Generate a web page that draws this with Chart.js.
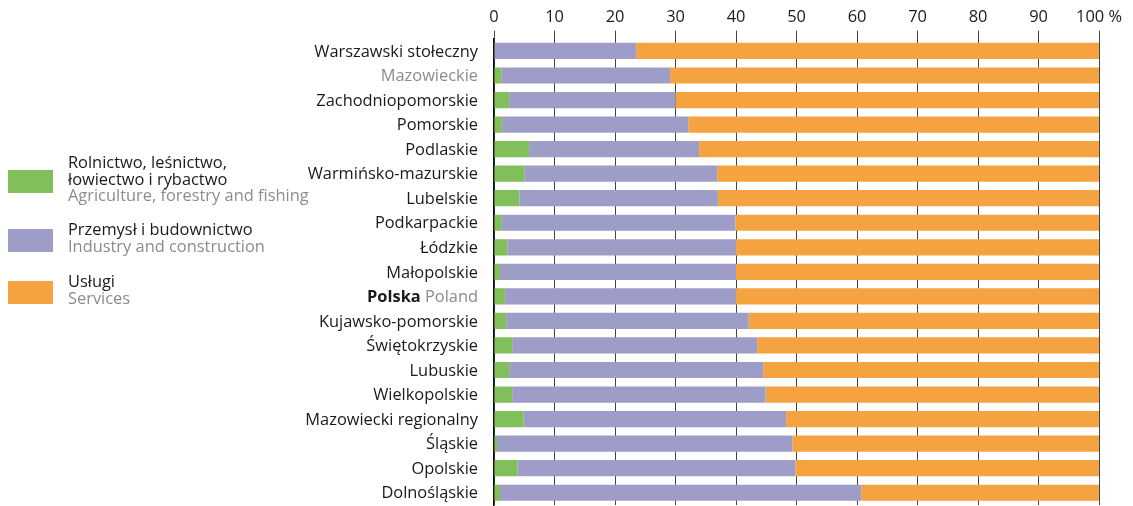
<!DOCTYPE html>
<html>
<head>
<meta charset="utf-8">
<script src="https://cdn.jsdelivr.net/npm/chart.js@4"></script>
<style>
  body { margin: 0; background: #fff; font-family: "Open Sans", sans-serif; }
  #wrap { position: relative; width: 1133px; height: 506px; }
  #legend { position: absolute; left: 8px; top: 0; }
  .item { position: absolute; left: 0; width: 330px; }
  .sw { position: absolute; left: 0; width: 45px; height: 23px; }
  .txt { position: absolute; left: 60px; font-size: 16.4px; line-height: 16.5px; color: #1a1a1a; white-space: nowrap; }
  .en { color: #8c8c8c; }
</style>
</head>
<body>
<div id="wrap">
  <canvas id="myChart" width="1133" height="506"></canvas>
  <div id="legend"></div>
</div>
<script>
// regions, sorted by share of agriculture + industry
const regions = [
  "Warszawski stołeczny", "Mazowieckie", "Zachodniopomorskie", "Pomorskie", "Podlaskie",
  "Warmińsko-mazurskie", "Lubelskie", "Podkarpackie", "Łódzkie", "Małopolskie",
  "Polska", "Kujawsko-pomorskie", "Świętokrzyskie", "Lubuskie", "Wielkopolskie",
  "Mazowiecki regionalny", "Śląskie", "Opolskie", "Dolnośląskie"
];
const agriculture = [0.1, 1.2, 2.5, 1.3, 5.8, 5.0, 4.2, 1.3, 2.2, 1.0, 1.8, 2.0, 3.0, 2.5, 3.0, 4.9, 0.5, 3.9, 1.0];
const industry = [23.4, 27.9, 27.5, 30.8, 28.1, 31.9, 32.8, 38.6, 37.8, 39.0, 38.2, 40.1, 40.5, 42.0, 41.9, 43.4, 48.8, 45.9, 59.7];
const services = [76.5, 70.9, 70.0, 67.9, 66.1, 63.1, 63.0, 60.1, 60.0, 60.0, 60.0, 57.9, 56.5, 55.5, 55.1, 51.7, 50.7, 50.2, 39.3];
const xTicks = [0, 10, 20, 30, 40, 50, 60, 70, 80, 90, 100];

const seriesNames = [
  { pl: ["Rolnictwo, leśnictwo,", "łowiectwo i rybactwo"], en: "Agriculture, forestry and fishing", color: '#80bf5a' },
  { pl: ["Przemysł i budownictwo"], en: "Industry and construction", color: '#9e9dc8' },
  { pl: ["Usługi"], en: "Services", color: '#f5a240' }
];

const FONT = '16.4px "Open Sans"';

// legend on the left
const legendTops = [154, 221, 273];
const swatchOffsets = [16, 8, 8];
const legend = document.getElementById('legend');
seriesNames.forEach((s, i) => {
    const item = document.createElement('div');
    item.className = 'item';
    item.style.top = legendTops[i] + 'px';
    const sw = document.createElement('div');
    sw.className = 'sw';
    sw.style.background = s.color;
    sw.style.top = swatchOffsets[i] + 'px';
    const txt = document.createElement('div');
    txt.className = 'txt';
    txt.innerHTML = s.pl.join('<br>') + '<br><span class="en">' + s.en + '</span>';
    item.appendChild(sw);
    item.appendChild(txt);
    legend.appendChild(item);
});

// region names next to the bars, with grey and bold variants
const regionLabels = {
    id: 'regionLabels',
    afterDraw(chart) {
        const ctx = chart.ctx;
        const y = chart.scales.y;
        const right = chart.chartArea.left - 16;
        ctx.save();
        ctx.textBaseline = 'middle';
        ctx.textAlign = 'right';
        regions.forEach((name, i) => {
            const py = y.getPixelForValue(i) + 1;
            if (name === 'Polska') {
                ctx.font = FONT;
                ctx.fillStyle = '#8c8c8c';
                ctx.fillText('Poland', right, py);
                const w = ctx.measureText(' Poland').width;
                ctx.font = 'bold ' + FONT;
                ctx.fillStyle = '#1a1a1a';
                ctx.fillText('Polska', right - w, py);
            } else {
                ctx.font = FONT;
                ctx.fillStyle = name === 'Mazowieckie' ? '#8c8c8c' : '#1a1a1a';
                ctx.fillText(name, right, py);
            }
        });
        ctx.restore();
    }
};

const ctx = document.getElementById('myChart').getContext('2d');
const chart = new Chart(ctx, {
    type: 'bar',
    data: {
        labels: regions,
        datasets: [
            { label: 'Rolnictwo', data: agriculture, backgroundColor: seriesNames[0].color },
            { label: 'Przemysł', data: industry, backgroundColor: seriesNames[1].color },
            { label: 'Usługi', data: services, backgroundColor: seriesNames[2].color }
        ]
    },
    options: {
        indexAxis: 'y',
        responsive: false,
        animation: false,
        layout: { padding: { left: 494, right: 34, top: 3, bottom: 1 } },
        datasets: { bar: { barPercentage: 0.66, categoryPercentage: 1 } },
        plugins: { legend: { display: false }, tooltip: { enabled: false } },
        scales: {
            x: {
                position: 'top',
                stacked: true,
                min: 0,
                max: 100,
                afterBuildTicks: (scale) => { scale.ticks = xTicks.map(v => ({ value: v })); },
                ticks: {
                    color: '#1a1a1a',
                    font: { family: 'Open Sans', size: 16.4 },
                    padding: 4,
                    callback: (v) => v === 100 ? '100 %' : v
                },
                grid: { color: '#444', lineWidth: 1, tickLength: 8 },
                border: { display: false }
            },
            y: {
                stacked: true,
                afterFit: (scale) => { scale.width = 0; },
                ticks: { display: false },
                grid: { display: false },
                border: { display: true, color: '#111', width: 1.5 }
            }
        }
    },
    plugins: [regionLabels]
});
</script>
</body>
</html>
